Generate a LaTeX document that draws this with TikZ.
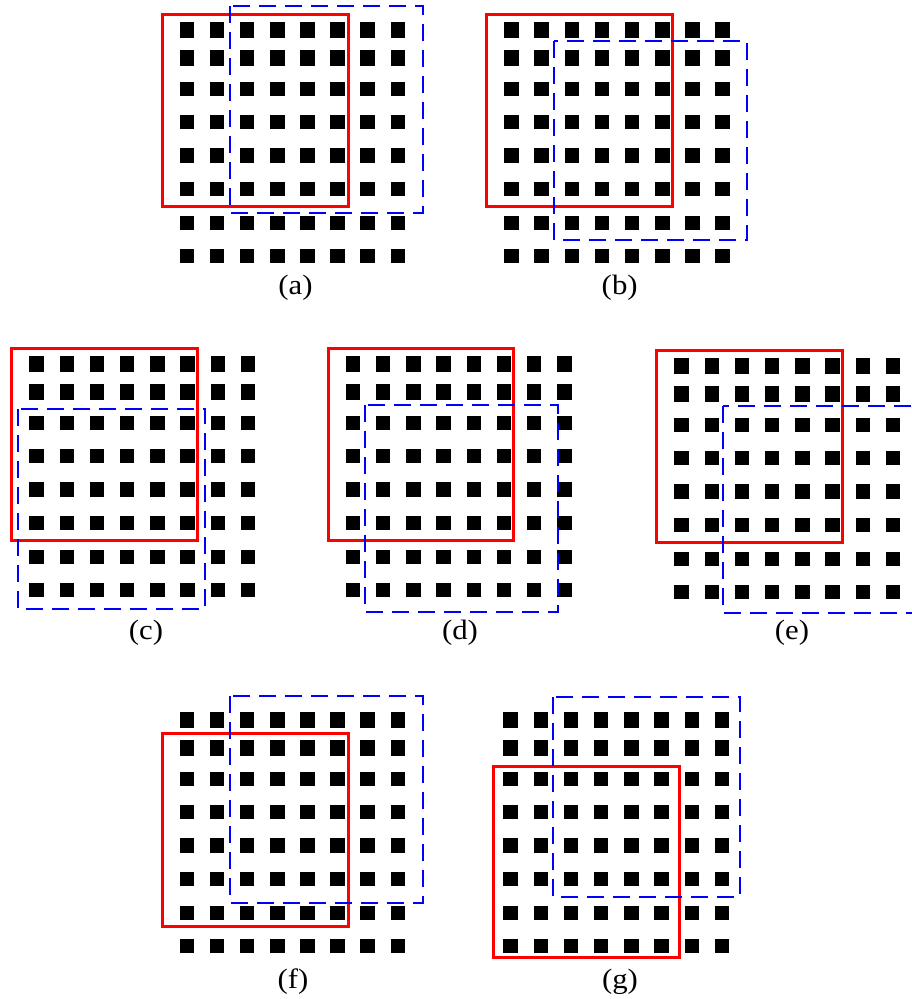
\documentclass[tikz,border=0pt]{standalone}
\usepackage{fontspec}
\setmainfont{Liberation Serif}
\tikzset{
  redbox/.style={draw=red, line width=3pt},
  bluebox/.style={draw=blue, line width=2.7pt, dash pattern=on 17pt off 9pt},
  lab/.style={font=\fontsize{28}{32}\selectfont, anchor=base, inner sep=0pt, xscale=1.1}
}
% #1 = centre x of first column, #2 = column spacing, #3 = vertical offset
\newcommand\mydotgrid[3]{%
  \foreach \r/\h in {30/15.5,58/15.5,89/14.3,122/14.3,155.5/14.3,189/14.3,223/14.3,256/14.3}{%
    \foreach \c in {0,...,7}{%
      \fill[black] ({#1+#2*\c-7.2},{#3+\r-\h/2}) rectangle ++(14.4,\h);
    }%
  }%
}
\begin{document}
\begin{tikzpicture}[x=1pt,y=-1pt]
\useasboundingbox (0,0) rectangle (912,999);
\clip (0,0) rectangle (912,999);
% dot grids
\mydotgrid{187}{30.1}{0}
\mydotgrid{511.5}{30.17}{0}
\mydotgrid{36.5}{30.2}{334}
\mydotgrid{353}{30.2}{334}
\mydotgrid{681.5}{30.2}{336}
\mydotgrid{187}{30.1}{690}
\mydotgrid{510.5}{30.2}{690}
% (a)
\draw[redbox] (162,14) rectangle (348,206);
\draw[bluebox] (230,6) rectangle (423,213);
% (b)
\draw[redbox] (486,14) rectangle (672,206);
\draw[bluebox] (554,41) rectangle (747,240);
% (c)
\draw[redbox] (11,348) rectangle (197,540);
\draw[bluebox] (18,409) rectangle (205,609);
% (d)
\draw[redbox] (328,348) rectangle (513,540);
\draw[bluebox] (365,405) rectangle (558,612);
% (e)
\draw[redbox] (656,350) rectangle (842,542);
\draw[bluebox] (723,406) rectangle (935,613);
% (f)
\draw[redbox] (162,733) rectangle (348,926);
\draw[bluebox] (230,696) rectangle (423,903);
% (g)
\draw[redbox] (493,766) rectangle (679,957);
\draw[bluebox] (553,697) rectangle (740,897);
% labels
\node[lab] (la) at (295.5,294.5) {(a)};
\node[lab] (lb) at (619.7,294.5) {(b)};
\node[lab] (lc) at (146,639.5) {(c)};
\node[lab] (ld) at (460,639.5) {(d)};
\node[lab] (le) at (792,639.5) {(e)};
\node[lab] (lf) at (293,988.5) {(f)};
\node[lab] (lg) at (620,988.5) {(g)};
\end{tikzpicture}
\end{document}
